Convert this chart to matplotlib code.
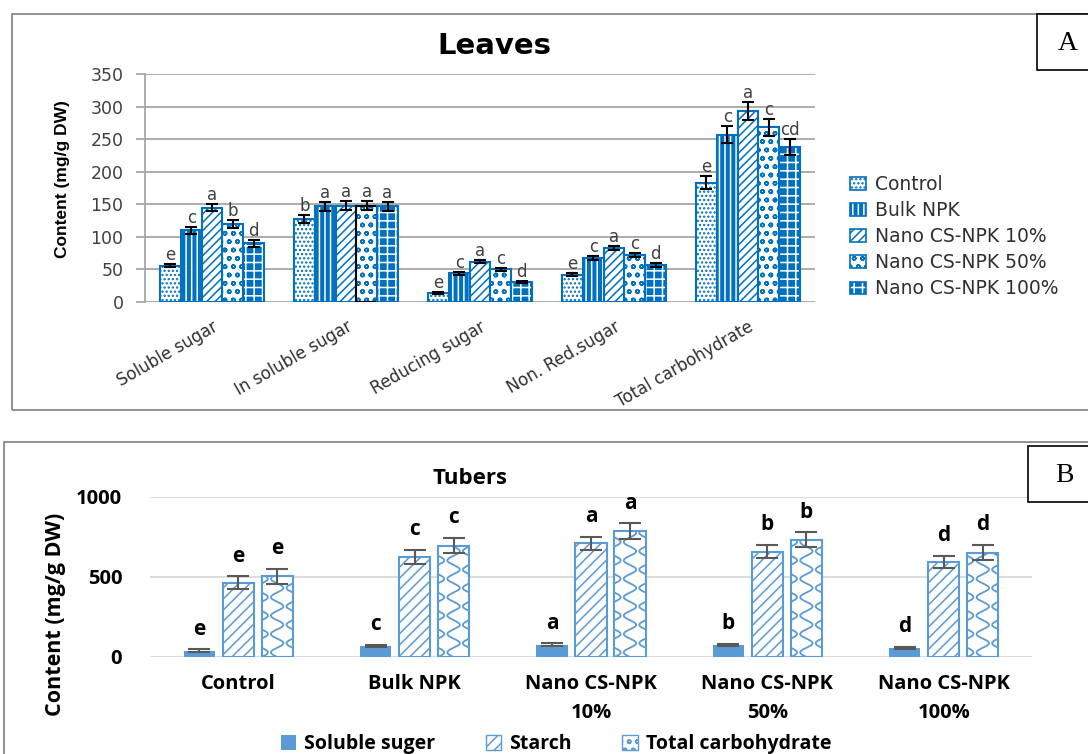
import numpy as np
import matplotlib
matplotlib.use("Agg")
from matplotlib import pyplot as plt
from matplotlib.patches import Rectangle, Patch

# ---- panel A : leaves ----
leaf_params = ["Soluble sugar", "In soluble sugar", "Reducing sugar",
               "Non. Red.sugar", "Total carbohydrate"]
treatments = ["Control", "Bulk NPK", "Nano CS-NPK 10%",
              "Nano CS-NPK 50%", "Nano CS-NPK 100%"]

# values follow leaf_params order
leaf_control = [56, 128, 14, 42, 183]
leaf_bulk = [110, 147, 44, 67, 257]
leaf_nano10 = [145, 148, 62, 83, 293]
leaf_nano50 = [120, 148, 50, 72, 268]
leaf_nano100 = [90, 147, 31, 57, 238]

leaf_err_control = [3, 6, 1, 2, 10]
leaf_err_bulk = [5, 7, 2, 3, 13]
leaf_err_nano10 = [6, 7, 2.5, 3, 14]
leaf_err_nano50 = [6, 7, 2.5, 3.5, 13]
leaf_err_nano100 = [5, 7, 2, 3, 12]

leaf_let_control = ["e", "b", "e", "e", "e"]
leaf_let_bulk = ["c", "a", "c", "c", "c"]
leaf_let_nano10 = ["a", "a", "a", "a", "a"]
leaf_let_nano50 = ["b", "a", "c", "c", "c"]
leaf_let_nano100 = ["d", "a", "d", "d", "cd"]

# ---- panel B : tubers ----
tuber_groups = ["Control", "Bulk NPK", "Nano CS-NPK\n10%",
                "Nano CS-NPK\n50%", "Nano CS-NPK\n100%"]
tuber_series = ["Soluble suger", "Starch", "Total carbohydrate"]
tuber_soluble = [40, 67, 78, 74, 59]
tuber_starch = [463, 626, 712, 658, 594]
tuber_total = [505, 695, 787, 732, 652]
tuber_err_soluble = [8, 7, 7, 7, 6]
tuber_err_starch = [41, 43, 41, 42, 40]
tuber_err_total = [48, 48, 48, 47, 48]
tuber_letters = ["e", "c", "a", "b", "d"]

W, H = 1088, 754
blue = "#0070C0"
lblue = "#5B9BD5"
plt.rcParams["font.family"] = ["DejaVu Sans"]
plt.rcParams["hatch.linewidth"] = 1.1


def box(x0, y0, x1, y1):
    # pixel box (top-left origin) -> figure fractions
    return [x0 / W, 1 - y1 / H, (x1 - x0) / W, (y1 - y0) / H]


fig = plt.figure(figsize=(W / 100, H / 100), dpi=100)

# panel frames and letter boxes
fig.add_artist(Rectangle((12 / W, 1 - 410 / H), 1100 / W, 396 / H, transform=fig.transFigure,
                         fill=False, edgecolor="#7f7f7f", lw=1.2))
fig.add_artist(Rectangle((4 / W, -0.05), 1100 / W, 1 - 442 / H + 0.05, transform=fig.transFigure,
                         fill=False, edgecolor="#7f7f7f", lw=1.2))
fig.add_artist(Rectangle((1037 / W, 1 - 70 / H), 60 / W, 56 / H, transform=fig.transFigure,
                         facecolor="white", edgecolor="black", lw=1.2))
fig.add_artist(Rectangle((1028 / W, 1 - 502 / H), 70 / W, 56 / H, transform=fig.transFigure,
                         facecolor="white", edgecolor="black", lw=1.2))
fig.text(1068 / W, 1 - 43 / H, "A", ha="center", va="center", fontsize=20, family="Liberation Serif")
fig.text(1064 / W, 1 - 475 / H, "B", ha="center", va="center", fontsize=20, family="Liberation Serif")

# ---------------- Leaves ----------------
axA = fig.add_axes(box(145, 74, 815, 302))
x = np.arange(len(leaf_params))
bw = 0.155
styles = [("white", blue, "...."),
          (blue, "white", "|||"),
          ("white", blue, "////"),
          ("white", blue, "oo"),
          (blue, "white", "++")]
vals_all = [leaf_control, leaf_bulk, leaf_nano10, leaf_nano50, leaf_nano100]
errs_all = [leaf_err_control, leaf_err_bulk, leaf_err_nano10, leaf_err_nano50, leaf_err_nano100]
lets_all = [leaf_let_control, leaf_let_bulk, leaf_let_nano10, leaf_let_nano50, leaf_let_nano100]

handles = []
for i in range(5):
    fc, hc, hatch = styles[i]
    pos = x + (i - 2) * bw
    axA.bar(pos, vals_all[i], bw, color=fc, edgecolor=hc, hatch=hatch, linewidth=0, zorder=2)
    outline = axA.bar(pos, vals_all[i], bw, color="none", edgecolor=blue, linewidth=1.5, zorder=3)
    if i == 3:
        # odd black edge on this bar in the original
        outline[1].set_edgecolor("black")
    axA.errorbar(pos, vals_all[i], yerr=errs_all[i], fmt="none", ecolor="black",
                 elinewidth=1.5, capsize=4, capthick=1.5, zorder=4)
    for p, v, e, t in zip(pos, vals_all[i], errs_all[i], lets_all[i]):
        axA.annotate(t, (p, v + e), xytext=(0, 0), textcoords="offset points",
                     ha="center", va="bottom", fontsize=12, color="#404040")
    handles.append((Patch(facecolor=fc, edgecolor=hc, hatch=hatch, linewidth=0),
                    Patch(facecolor="none", edgecolor=blue, linewidth=1.2)))

axA.set_xlim(-0.5, 4.5)
axA.set_ylim(0, 350)
axA.set_yticks(np.arange(0, 351, 50))
axA.yaxis.grid(True, color="#a6a6a6", lw=1.3)
axA.set_axisbelow(True)
for s in ["top", "right", "bottom"]:
    axA.spines[s].set_visible(False)
axA.spines["left"].set_color("#a6a6a6")
axA.spines["left"].set_linewidth(1.3)
axA.tick_params(axis="y", length=6.5, color="#a6a6a6", width=1.3, labelsize=12.5,
                labelcolor="#404040", pad=9)
axA.tick_params(axis="x", length=0, pad=4)
axA.set_xticks(x)
axA.set_xticklabels(leaf_params, rotation=30, ha="right", va="top",
                    rotation_mode="anchor", fontsize=12, color="#303030")
for lab in axA.get_xticklabels():
    lab.set_y(-0.045)

fig.text(494 / W, 1 - 46 / H, "Leaves", ha="center", va="center", fontsize=21, weight="bold")
fig.text(62 / W, 1 - 179 / H, "Content (mg/g DW)", rotation=90, ha="center", va="center",
         fontsize=12.5, weight="bold", family="Liberation Sans")
fig.legend(handles, treatments, loc="upper left", bbox_to_anchor=(833 / W, 1 - 158 / H),
           frameon=False, fontsize=13.5, handlelength=0.85, handleheight=0.65,
           labelspacing=0.38, handletextpad=0.5, labelcolor="#303030")

# ---------------- Tubers ----------------
bfont = "Open Sans"
axB = fig.add_axes(box(150, 497, 1032, 657))
xb = np.arange(len(tuber_groups))
bwb = 0.176
step = 0.221
axB.bar(xb - step, tuber_soluble, bwb, color=lblue, zorder=2)
axB.bar(xb, tuber_starch, bwb, color="white", edgecolor=lblue, hatch="///", linewidth=1.5, zorder=2)
tot = axB.bar(xb + step, tuber_total, bwb, color="white", edgecolor=lblue, linewidth=1.5, zorder=2)

# wavy pattern inside total carbohydrate bars
for r in tot:
    x0, w, h = r.get_x(), r.get_width(), r.get_height()
    yy = np.linspace(0, h, 400)
    for k in range(3):
        xx = x0 + w * (k / 2 + 0.2 * np.sin(2 * np.pi * yy / 115 + k * np.pi))
        ln, = axB.plot(xx, yy, color=lblue, lw=1.3, zorder=2.5)
        ln.set_clip_path(r)

for off, vals, errs in [(-step, tuber_soluble, tuber_err_soluble),
                        (0, tuber_starch, tuber_err_starch),
                        (step, tuber_total, tuber_err_total)]:
    axB.errorbar(xb + off, vals, yerr=errs, fmt="none", ecolor="#595959",
                 elinewidth=1.5, capsize=8, capthick=1.5, zorder=4)
    for p, v, e, t in zip(xb + off, vals, errs, tuber_letters):
        axB.annotate(t, (p, v + e), xytext=(0, 7), textcoords="offset points",
                     ha="center", va="bottom", fontsize=15, weight="bold", family=bfont)

axB.set_xlim(-0.5, 4.5)
axB.set_ylim(0, 1000)
axB.set_yticks([0, 500, 1000])
axB.yaxis.grid(True, color="#d9d9d9", lw=1.3)
axB.set_axisbelow(True)
for s in axB.spines.values():
    s.set_visible(False)
axB.tick_params(axis="both", length=0, labelsize=14.5)
axB.tick_params(axis="y", pad=20)
axB.tick_params(axis="x", pad=12)
axB.set_xticks(xb)
axB.set_xticklabels(tuber_groups, linespacing=1.6)
for lab in axB.get_xticklabels() + axB.get_yticklabels():
    lab.set_fontweight("bold")
    lab.set_family(bfont)

fig.text(470 / W, 1 - 478 / H, "Tubers", ha="center", va="center", fontsize=16,
         weight="bold", family=bfont)
fig.text(55 / W, 1 - 614 / H, "Content (mg/g DW)", rotation=90, ha="center", va="center",
         fontsize=15.5, weight="bold", family=bfont)

hB = [Patch(facecolor=lblue),
      Patch(facecolor="white", edgecolor=lblue, hatch="///"),
      Patch(facecolor="white", edgecolor=lblue, hatch="oo")]
fig.legend(hB, tuber_series, loc="center", bbox_to_anchor=(556 / W, 1 - 744 / H), ncol=3,
           frameon=False, handlelength=0.8, handleheight=0.8, handletextpad=0.4,
           columnspacing=2.6, prop={"family": bfont, "weight": "bold", "size": 14})

fig.savefig("out.png", dpi=100)
